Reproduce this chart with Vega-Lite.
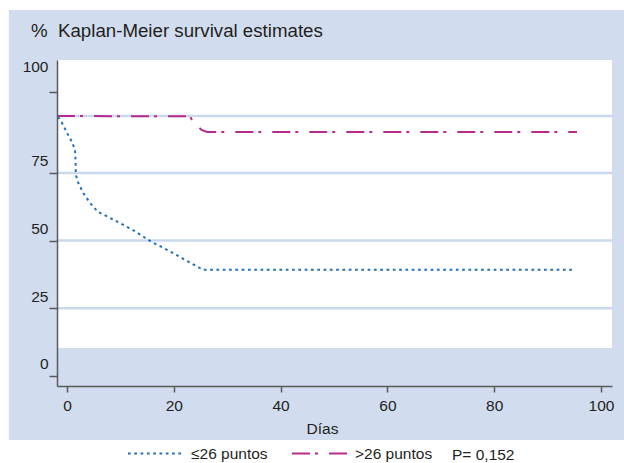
{
  "$schema": "https://vega.github.io/schema/vega-lite/v6.json",
  "width": 555,
  "height": 326,
  "autosize": {"type": "none"},
  "padding": {"left": 57, "top": 60, "right": 12, "bottom": 77},
  "background": "white",
  "title": {"text": "%\u00a0\u00a0Kaplan-Meier survival estimates", "anchor": "start", "frame": "group", "dx": -26, "offset": -46, "baseline": "alphabetic", "fontSize": 18.7, "fontWeight": "normal", "font": "Liberation Sans", "color": "#231f20", "zindex": 1},
  "config": {"view": {"stroke": null}, "font": "Liberation Sans"},
  "datasets": {
    "curvas": [
      {"dias": -1.69, "surv": 95.7, "grupo": "≤26 puntos"},
      {"dias": -1.12, "surv": 94.2, "grupo": "≤26 puntos"},
      {"dias": 0.0, "surv": 89.8, "grupo": "≤26 puntos"},
      {"dias": 0.94, "surv": 86.4, "grupo": "≤26 puntos"},
      {"dias": 1.5, "surv": 83.5, "grupo": "≤26 puntos"},
      {"dias": 1.6, "surv": 79.8, "grupo": "≤26 puntos"},
      {"dias": 1.65, "surv": 74.3, "grupo": "≤26 puntos"},
      {"dias": 2.12, "surv": 71.3, "grupo": "≤26 puntos"},
      {"dias": 3.05, "surv": 67.6, "grupo": "≤26 puntos"},
      {"dias": 4.31, "surv": 63.9, "grupo": "≤26 puntos"},
      {"dias": 5.81, "surv": 60.6, "grupo": "≤26 puntos"},
      {"dias": 8.05, "surv": 58.4, "grupo": "≤26 puntos"},
      {"dias": 12.36, "surv": 53.9, "grupo": "≤26 puntos"},
      {"dias": 15.54, "surv": 49.9, "grupo": "≤26 puntos"},
      {"dias": 19.85, "surv": 45.4, "grupo": "≤26 puntos"},
      {"dias": 25.47, "surv": 39.2, "grupo": "≤26 puntos"},
      {"dias": 94.57, "surv": 39.2, "grupo": "≤26 puntos"},
      {"dias": -1.87, "surv": 96.0, "grupo": ">26 puntos"},
      {"dias": 23.0, "surv": 95.9, "grupo": ">26 puntos"},
      {"dias": 23.6, "surv": 94.0, "grupo": ">26 puntos"},
      {"dias": 25.2, "surv": 90.9, "grupo": ">26 puntos"},
      {"dias": 26.2, "surv": 90.1, "grupo": ">26 puntos"},
      {"dias": 95.5, "surv": 90.1, "grupo": ">26 puntos"}
    ],
    "rejilla": [{"nivel": 25}, {"nivel": 50}, {"nivel": 75}, {"nivel": 96}]
  },
  "layer": [
    {
      "data": {"values": [{}]},
      "mark": {"type": "rect", "color": "#d1ddef", "clip": false},
      "encoding": {
        "x": {"datum": -10.9, "type": "quantitative", "scale": {"domain": [-1.87, 102.06], "nice": false, "zero": false}},
        "x2": {"datum": 106},
        "y": {"datum": 135.2, "type": "quantitative", "scale": {"domain": [-3.7, 116.7], "nice": false, "zero": false}},
        "y2": {"datum": -23.64}
      }
    },
    {
      "data": {"values": [{}]},
      "mark": {"type": "rect", "color": "white", "clip": false},
      "encoding": {
        "x": {"datum": -1.87, "type": "quantitative"},
        "x2": {"datum": 102.06},
        "y": {"datum": 116.7, "type": "quantitative"},
        "y2": {"datum": 10.3}
      }
    },
    {
      "data": {"name": "rejilla"},
      "mark": {"type": "rule", "color": "#cad8ee", "strokeWidth": 2.5},
      "encoding": {
        "y": {"field": "nivel", "type": "quantitative"}
      }
    },
    {
      "data": {"name": "curvas"},
      "mark": {"type": "line", "strokeWidth": 2, "clip": false, "strokeCap": "butt"},
      "encoding": {
        "x": {
          "field": "dias", "type": "quantitative",
          "scale": {"domain": [-1.87, 102.06], "nice": false, "zero": false},
          "axis": {"values": [0, 20, 40, 60, 80, 100], "grid": false, "title": "Días", "titleX": 265, "titleY": 42, "titleBaseline": "middle", "titleAlign": "center", "titleFontSize": 15.5, "titleFontWeight": "normal", "titleColor": "#231f20", "titleFont": "Liberation Sans", "domainColor": "#5a5a5a", "domainWidth": 1.5, "tickColor": "#5a5a5a", "tickWidth": 1.5, "tickSize": 6, "labelPadding": 6, "labelFontSize": 15.5, "labelColor": "#231f20", "labelFont": "Liberation Sans", "zindex": 1}
        },
        "y": {
          "field": "surv", "type": "quantitative",
          "scale": {"domain": [-3.7, 116.7], "nice": false, "zero": false},
          "axis": {"values": [0, 25, 50, 75, 104.9], "labelExpr": "datum.value > 100 ? '100' : datum.label", "title": null, "grid": false, "domainColor": "#5a5a5a", "domainWidth": 1.5, "tickColor": "#5a5a5a", "tickWidth": 1.5, "tickSize": 8, "labelPadding": 1, "labelFontSize": 15.5, "labelColor": "#231f20", "labelFont": "Liberation Sans", "labelOffset": {"condition": {"test": "datum.value > 100", "value": -25}, "value": -12}, "zindex": 1}
        },
        "color": {
          "field": "grupo", "type": "nominal",
          "scale": {"domain": ["≤26 puntos", ">26 puntos"], "range": ["#1f70b8", "#b62a8e"]},
          "legend": {"orient": "none", "legendX": 70, "legendY": 365, "direction": "horizontal", "title": null, "symbolType": "stroke", "symbolSize": 3025, "symbolStrokeWidth": 2, "labelFontSize": 15.5, "labelOffset": 7, "columnPadding": 20, "labelColor": "#231f20", "labelFont": "Liberation Sans", "padding": 0}
        },
        "strokeDash": {
          "field": "grupo", "type": "nominal",
          "scale": {"domain": ["≤26 puntos", ">26 puntos"], "range": [[2.7, 3.6], [18, 5, 3, 11]]},
          "legend": {"orient": "none", "legendX": 70, "legendY": 365, "direction": "horizontal", "title": null, "symbolType": "stroke", "symbolSize": 3025, "symbolStrokeWidth": 2, "labelFontSize": 15.5, "labelOffset": 7, "columnPadding": 20, "labelColor": "#231f20", "labelFont": "Liberation Sans", "padding": 0}
        }
      }
    },
    {
      "data": {"values": [{}]},
      "mark": {"type": "text", "align": "left", "baseline": "middle", "fontSize": 15.5, "font": "Liberation Sans", "color": "#231f20", "clip": false},
      "encoding": {
        "x": {"datum": 72.1, "type": "quantitative"},
        "y": {"datum": -29.0, "type": "quantitative"},
        "text": {"value": "P= 0,152"}
      }
    }
  ]
}
